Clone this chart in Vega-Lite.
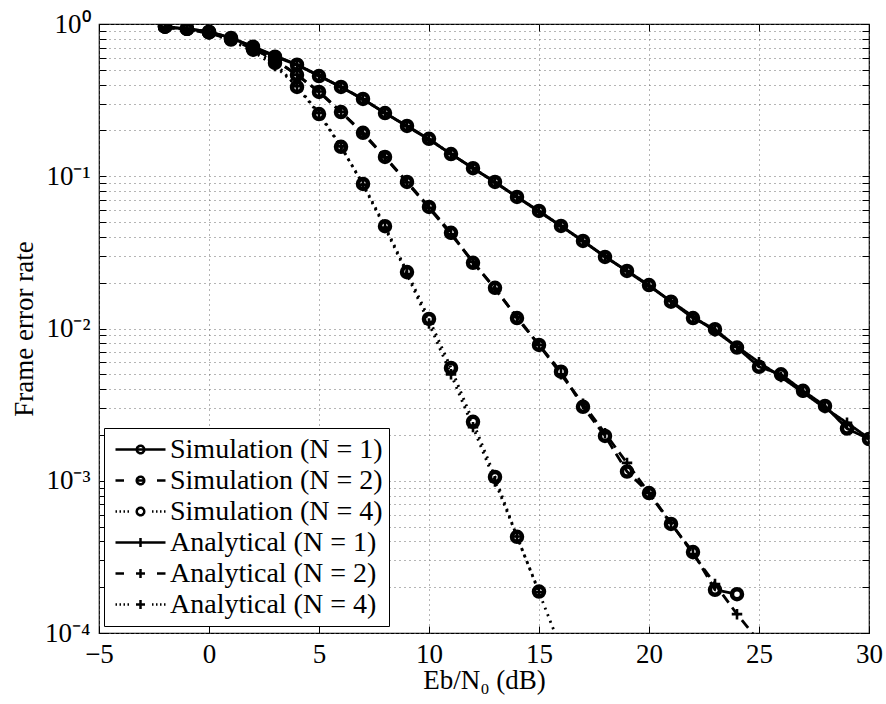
{
  "$schema": "https://vega.github.io/schema/vega-lite/v6.json",
  "width": 770,
  "height": 609,
  "autosize": "none",
  "padding": {"left": 99, "top": 24, "right": 17, "bottom": 71},
  "background": "white",
  "config": {
    "font": "Liberation Serif",
    "view": {"stroke": "black", "strokeWidth": 1.2},
    "axis": {
      "labelFont": "Liberation Serif", "labelFontSize": 27, "labelColor": "black",
      "titleFont": "Liberation Serif", "titleFontSize": 27, "titleFontWeight": "normal", "titleColor": "black",
      "domain": false, "tickColor": "black", "tickSize": -7, "tickWidth": 1,
      "gridColor": "#6a6a6a", "gridDash": [1, 4], "gridWidth": 1, "gridOpacity": 1,
      "labelOverlap": false, "labelBound": false, "labelFlush": false
    }
  },
  "data": {"values": [
    {"x": -2, "fer": 0.96, "series": "Simulation (N = 1)", "kind": "Simulation", "N": 1},
    {"x": -1, "fer": 0.93, "series": "Simulation (N = 1)", "kind": "Simulation", "N": 1},
    {"x": 0, "fer": 0.89, "series": "Simulation (N = 1)", "kind": "Simulation", "N": 1},
    {"x": 1, "fer": 0.81, "series": "Simulation (N = 1)", "kind": "Simulation", "N": 1},
    {"x": 2, "fer": 0.71, "series": "Simulation (N = 1)", "kind": "Simulation", "N": 1},
    {"x": 3, "fer": 0.61, "series": "Simulation (N = 1)", "kind": "Simulation", "N": 1},
    {"x": 4, "fer": 0.54, "series": "Simulation (N = 1)", "kind": "Simulation", "N": 1},
    {"x": 5, "fer": 0.455, "series": "Simulation (N = 1)", "kind": "Simulation", "N": 1},
    {"x": 6, "fer": 0.386, "series": "Simulation (N = 1)", "kind": "Simulation", "N": 1},
    {"x": 7, "fer": 0.322, "series": "Simulation (N = 1)", "kind": "Simulation", "N": 1},
    {"x": 8, "fer": 0.26, "series": "Simulation (N = 1)", "kind": "Simulation", "N": 1},
    {"x": 9, "fer": 0.214, "series": "Simulation (N = 1)", "kind": "Simulation", "N": 1},
    {"x": 10, "fer": 0.176, "series": "Simulation (N = 1)", "kind": "Simulation", "N": 1},
    {"x": 11, "fer": 0.14, "series": "Simulation (N = 1)", "kind": "Simulation", "N": 1},
    {"x": 12, "fer": 0.113, "series": "Simulation (N = 1)", "kind": "Simulation", "N": 1},
    {"x": 13, "fer": 0.0918, "series": "Simulation (N = 1)", "kind": "Simulation", "N": 1},
    {"x": 14, "fer": 0.0731, "series": "Simulation (N = 1)", "kind": "Simulation", "N": 1},
    {"x": 15, "fer": 0.0592, "series": "Simulation (N = 1)", "kind": "Simulation", "N": 1},
    {"x": 16, "fer": 0.0472, "series": "Simulation (N = 1)", "kind": "Simulation", "N": 1},
    {"x": 17, "fer": 0.0376, "series": "Simulation (N = 1)", "kind": "Simulation", "N": 1},
    {"x": 18, "fer": 0.0295, "series": "Simulation (N = 1)", "kind": "Simulation", "N": 1},
    {"x": 19, "fer": 0.0239, "series": "Simulation (N = 1)", "kind": "Simulation", "N": 1},
    {"x": 20, "fer": 0.0193, "series": "Simulation (N = 1)", "kind": "Simulation", "N": 1},
    {"x": 21, "fer": 0.015, "series": "Simulation (N = 1)", "kind": "Simulation", "N": 1},
    {"x": 22, "fer": 0.0117, "series": "Simulation (N = 1)", "kind": "Simulation", "N": 1},
    {"x": 23, "fer": 0.0099, "series": "Simulation (N = 1)", "kind": "Simulation", "N": 1},
    {"x": 24, "fer": 0.0075, "series": "Simulation (N = 1)", "kind": "Simulation", "N": 1},
    {"x": 25, "fer": 0.0056, "series": "Simulation (N = 1)", "kind": "Simulation", "N": 1},
    {"x": 26, "fer": 0.005, "series": "Simulation (N = 1)", "kind": "Simulation", "N": 1},
    {"x": 27, "fer": 0.0039, "series": "Simulation (N = 1)", "kind": "Simulation", "N": 1},
    {"x": 28, "fer": 0.0031, "series": "Simulation (N = 1)", "kind": "Simulation", "N": 1},
    {"x": 29, "fer": 0.0022, "series": "Simulation (N = 1)", "kind": "Simulation", "N": 1},
    {"x": 30, "fer": 0.00188, "series": "Simulation (N = 1)", "kind": "Simulation", "N": 1},

    {"x": -2, "fer": 0.96, "series": "Simulation (N = 2)", "kind": "Simulation", "N": 2},
    {"x": -1, "fer": 0.93, "series": "Simulation (N = 2)", "kind": "Simulation", "N": 2},
    {"x": 0, "fer": 0.88, "series": "Simulation (N = 2)", "kind": "Simulation", "N": 2},
    {"x": 1, "fer": 0.8, "series": "Simulation (N = 2)", "kind": "Simulation", "N": 2},
    {"x": 2, "fer": 0.69, "series": "Simulation (N = 2)", "kind": "Simulation", "N": 2},
    {"x": 3, "fer": 0.58, "series": "Simulation (N = 2)", "kind": "Simulation", "N": 2},
    {"x": 4, "fer": 0.463, "series": "Simulation (N = 2)", "kind": "Simulation", "N": 2},
    {"x": 5, "fer": 0.358, "series": "Simulation (N = 2)", "kind": "Simulation", "N": 2},
    {"x": 6, "fer": 0.264, "series": "Simulation (N = 2)", "kind": "Simulation", "N": 2},
    {"x": 7, "fer": 0.193, "series": "Simulation (N = 2)", "kind": "Simulation", "N": 2},
    {"x": 8, "fer": 0.134, "series": "Simulation (N = 2)", "kind": "Simulation", "N": 2},
    {"x": 9, "fer": 0.0918, "series": "Simulation (N = 2)", "kind": "Simulation", "N": 2},
    {"x": 10, "fer": 0.0629, "series": "Simulation (N = 2)", "kind": "Simulation", "N": 2},
    {"x": 11, "fer": 0.0425, "series": "Simulation (N = 2)", "kind": "Simulation", "N": 2},
    {"x": 12, "fer": 0.027, "series": "Simulation (N = 2)", "kind": "Simulation", "N": 2},
    {"x": 13, "fer": 0.0185, "series": "Simulation (N = 2)", "kind": "Simulation", "N": 2},
    {"x": 14, "fer": 0.0117, "series": "Simulation (N = 2)", "kind": "Simulation", "N": 2},
    {"x": 15, "fer": 0.0078, "series": "Simulation (N = 2)", "kind": "Simulation", "N": 2},
    {"x": 16, "fer": 0.0052, "series": "Simulation (N = 2)", "kind": "Simulation", "N": 2},
    {"x": 17, "fer": 0.00306, "series": "Simulation (N = 2)", "kind": "Simulation", "N": 2},
    {"x": 18, "fer": 0.00197, "series": "Simulation (N = 2)", "kind": "Simulation", "N": 2},
    {"x": 19, "fer": 0.00115, "series": "Simulation (N = 2)", "kind": "Simulation", "N": 2},
    {"x": 20, "fer": 0.00083, "series": "Simulation (N = 2)", "kind": "Simulation", "N": 2},
    {"x": 21, "fer": 0.00052, "series": "Simulation (N = 2)", "kind": "Simulation", "N": 2},
    {"x": 22, "fer": 0.00034, "series": "Simulation (N = 2)", "kind": "Simulation", "N": 2},
    {"x": 23, "fer": 0.000192, "series": "Simulation (N = 2)", "kind": "Simulation", "N": 2},
    {"x": 24, "fer": 0.00018, "series": "Simulation (N = 2)", "kind": "Simulation", "N": 2},

    {"x": -2, "fer": 0.96, "series": "Simulation (N = 4)", "kind": "Simulation", "N": 4},
    {"x": -1, "fer": 0.93, "series": "Simulation (N = 4)", "kind": "Simulation", "N": 4},
    {"x": 0, "fer": 0.88, "series": "Simulation (N = 4)", "kind": "Simulation", "N": 4},
    {"x": 1, "fer": 0.79, "series": "Simulation (N = 4)", "kind": "Simulation", "N": 4},
    {"x": 2, "fer": 0.68, "series": "Simulation (N = 4)", "kind": "Simulation", "N": 4},
    {"x": 3, "fer": 0.555, "series": "Simulation (N = 4)", "kind": "Simulation", "N": 4},
    {"x": 4, "fer": 0.386, "series": "Simulation (N = 4)", "kind": "Simulation", "N": 4},
    {"x": 5, "fer": 0.256, "series": "Simulation (N = 4)", "kind": "Simulation", "N": 4},
    {"x": 6, "fer": 0.156, "series": "Simulation (N = 4)", "kind": "Simulation", "N": 4},
    {"x": 7, "fer": 0.089, "series": "Simulation (N = 4)", "kind": "Simulation", "N": 4},
    {"x": 8, "fer": 0.047, "series": "Simulation (N = 4)", "kind": "Simulation", "N": 4},
    {"x": 9, "fer": 0.0235, "series": "Simulation (N = 4)", "kind": "Simulation", "N": 4},
    {"x": 10, "fer": 0.01156, "series": "Simulation (N = 4)", "kind": "Simulation", "N": 4},
    {"x": 11, "fer": 0.00551, "series": "Simulation (N = 4)", "kind": "Simulation", "N": 4},
    {"x": 12, "fer": 0.00244, "series": "Simulation (N = 4)", "kind": "Simulation", "N": 4},
    {"x": 13, "fer": 0.00106, "series": "Simulation (N = 4)", "kind": "Simulation", "N": 4},
    {"x": 14, "fer": 0.000428, "series": "Simulation (N = 4)", "kind": "Simulation", "N": 4},
    {"x": 15, "fer": 0.000187, "series": "Simulation (N = 4)", "kind": "Simulation", "N": 4},

    {"x": -2, "fer": 0.95, "series": "Analytical (N = 1)", "kind": "Analytical", "N": 1},
    {"x": -1, "fer": 0.93, "series": "Analytical (N = 1)", "kind": "Analytical", "N": 1},
    {"x": 0, "fer": 0.89, "series": "Analytical (N = 1)", "kind": "Analytical", "N": 1},
    {"x": 1, "fer": 0.81, "series": "Analytical (N = 1)", "kind": "Analytical", "N": 1},
    {"x": 2, "fer": 0.71, "series": "Analytical (N = 1)", "kind": "Analytical", "N": 1},
    {"x": 3, "fer": 0.62, "series": "Analytical (N = 1)", "kind": "Analytical", "N": 1},
    {"x": 4, "fer": 0.54, "series": "Analytical (N = 1)", "kind": "Analytical", "N": 1},
    {"x": 5, "fer": 0.46, "series": "Analytical (N = 1)", "kind": "Analytical", "N": 1},
    {"x": 6, "fer": 0.385, "series": "Analytical (N = 1)", "kind": "Analytical", "N": 1},
    {"x": 7, "fer": 0.32, "series": "Analytical (N = 1)", "kind": "Analytical", "N": 1},
    {"x": 8, "fer": 0.26, "series": "Analytical (N = 1)", "kind": "Analytical", "N": 1},
    {"x": 9, "fer": 0.213, "series": "Analytical (N = 1)", "kind": "Analytical", "N": 1},
    {"x": 10, "fer": 0.174, "series": "Analytical (N = 1)", "kind": "Analytical", "N": 1},
    {"x": 11, "fer": 0.14, "series": "Analytical (N = 1)", "kind": "Analytical", "N": 1},
    {"x": 12, "fer": 0.113, "series": "Analytical (N = 1)", "kind": "Analytical", "N": 1},
    {"x": 13, "fer": 0.091, "series": "Analytical (N = 1)", "kind": "Analytical", "N": 1},
    {"x": 14, "fer": 0.073, "series": "Analytical (N = 1)", "kind": "Analytical", "N": 1},
    {"x": 15, "fer": 0.0585, "series": "Analytical (N = 1)", "kind": "Analytical", "N": 1},
    {"x": 16, "fer": 0.047, "series": "Analytical (N = 1)", "kind": "Analytical", "N": 1},
    {"x": 17, "fer": 0.0375, "series": "Analytical (N = 1)", "kind": "Analytical", "N": 1},
    {"x": 18, "fer": 0.0298, "series": "Analytical (N = 1)", "kind": "Analytical", "N": 1},
    {"x": 19, "fer": 0.0238, "series": "Analytical (N = 1)", "kind": "Analytical", "N": 1},
    {"x": 20, "fer": 0.019, "series": "Analytical (N = 1)", "kind": "Analytical", "N": 1},
    {"x": 21, "fer": 0.0151, "series": "Analytical (N = 1)", "kind": "Analytical", "N": 1},
    {"x": 22, "fer": 0.012, "series": "Analytical (N = 1)", "kind": "Analytical", "N": 1},
    {"x": 23, "fer": 0.0096, "series": "Analytical (N = 1)", "kind": "Analytical", "N": 1},
    {"x": 24, "fer": 0.0076, "series": "Analytical (N = 1)", "kind": "Analytical", "N": 1},
    {"x": 25, "fer": 0.006, "series": "Analytical (N = 1)", "kind": "Analytical", "N": 1},
    {"x": 26, "fer": 0.0048, "series": "Analytical (N = 1)", "kind": "Analytical", "N": 1},
    {"x": 27, "fer": 0.0038, "series": "Analytical (N = 1)", "kind": "Analytical", "N": 1},
    {"x": 28, "fer": 0.003, "series": "Analytical (N = 1)", "kind": "Analytical", "N": 1},
    {"x": 29, "fer": 0.0024, "series": "Analytical (N = 1)", "kind": "Analytical", "N": 1},
    {"x": 30, "fer": 0.0019, "series": "Analytical (N = 1)", "kind": "Analytical", "N": 1},

    {"x": -2, "fer": 0.95, "series": "Analytical (N = 2)", "kind": "Analytical", "N": 2},
    {"x": -1, "fer": 0.92, "series": "Analytical (N = 2)", "kind": "Analytical", "N": 2},
    {"x": 0, "fer": 0.87, "series": "Analytical (N = 2)", "kind": "Analytical", "N": 2},
    {"x": 1, "fer": 0.79, "series": "Analytical (N = 2)", "kind": "Analytical", "N": 2},
    {"x": 2, "fer": 0.69, "series": "Analytical (N = 2)", "kind": "Analytical", "N": 2},
    {"x": 3, "fer": 0.58, "series": "Analytical (N = 2)", "kind": "Analytical", "N": 2},
    {"x": 4, "fer": 0.465, "series": "Analytical (N = 2)", "kind": "Analytical", "N": 2},
    {"x": 5, "fer": 0.36, "series": "Analytical (N = 2)", "kind": "Analytical", "N": 2},
    {"x": 6, "fer": 0.265, "series": "Analytical (N = 2)", "kind": "Analytical", "N": 2},
    {"x": 7, "fer": 0.19, "series": "Analytical (N = 2)", "kind": "Analytical", "N": 2},
    {"x": 8, "fer": 0.133, "series": "Analytical (N = 2)", "kind": "Analytical", "N": 2},
    {"x": 9, "fer": 0.091, "series": "Analytical (N = 2)", "kind": "Analytical", "N": 2},
    {"x": 10, "fer": 0.062, "series": "Analytical (N = 2)", "kind": "Analytical", "N": 2},
    {"x": 11, "fer": 0.0415, "series": "Analytical (N = 2)", "kind": "Analytical", "N": 2},
    {"x": 12, "fer": 0.0275, "series": "Analytical (N = 2)", "kind": "Analytical", "N": 2},
    {"x": 13, "fer": 0.0182, "series": "Analytical (N = 2)", "kind": "Analytical", "N": 2},
    {"x": 14, "fer": 0.0119, "series": "Analytical (N = 2)", "kind": "Analytical", "N": 2},
    {"x": 15, "fer": 0.0078, "series": "Analytical (N = 2)", "kind": "Analytical", "N": 2},
    {"x": 16, "fer": 0.005, "series": "Analytical (N = 2)", "kind": "Analytical", "N": 2},
    {"x": 17, "fer": 0.0032, "series": "Analytical (N = 2)", "kind": "Analytical", "N": 2},
    {"x": 18, "fer": 0.00205, "series": "Analytical (N = 2)", "kind": "Analytical", "N": 2},
    {"x": 19, "fer": 0.00131, "series": "Analytical (N = 2)", "kind": "Analytical", "N": 2},
    {"x": 20, "fer": 0.00083, "series": "Analytical (N = 2)", "kind": "Analytical", "N": 2},
    {"x": 21, "fer": 0.00053, "series": "Analytical (N = 2)", "kind": "Analytical", "N": 2},
    {"x": 22, "fer": 0.00033, "series": "Analytical (N = 2)", "kind": "Analytical", "N": 2},
    {"x": 23, "fer": 0.00021, "series": "Analytical (N = 2)", "kind": "Analytical", "N": 2},
    {"x": 24, "fer": 0.000133, "series": "Analytical (N = 2)", "kind": "Analytical", "N": 2},
    {"x": 25, "fer": 0.000088, "series": "Analytical (N = 2)", "kind": "Analytical", "N": 2},

    {"x": -2, "fer": 0.95, "series": "Analytical (N = 4)", "kind": "Analytical", "N": 4},
    {"x": -1, "fer": 0.92, "series": "Analytical (N = 4)", "kind": "Analytical", "N": 4},
    {"x": 0, "fer": 0.87, "series": "Analytical (N = 4)", "kind": "Analytical", "N": 4},
    {"x": 1, "fer": 0.78, "series": "Analytical (N = 4)", "kind": "Analytical", "N": 4},
    {"x": 2, "fer": 0.66, "series": "Analytical (N = 4)", "kind": "Analytical", "N": 4},
    {"x": 3, "fer": 0.53, "series": "Analytical (N = 4)", "kind": "Analytical", "N": 4},
    {"x": 4, "fer": 0.39, "series": "Analytical (N = 4)", "kind": "Analytical", "N": 4},
    {"x": 5, "fer": 0.26, "series": "Analytical (N = 4)", "kind": "Analytical", "N": 4},
    {"x": 6, "fer": 0.157, "series": "Analytical (N = 4)", "kind": "Analytical", "N": 4},
    {"x": 7, "fer": 0.088, "series": "Analytical (N = 4)", "kind": "Analytical", "N": 4},
    {"x": 8, "fer": 0.046, "series": "Analytical (N = 4)", "kind": "Analytical", "N": 4},
    {"x": 9, "fer": 0.0228, "series": "Analytical (N = 4)", "kind": "Analytical", "N": 4},
    {"x": 10, "fer": 0.0108, "series": "Analytical (N = 4)", "kind": "Analytical", "N": 4},
    {"x": 11, "fer": 0.005, "series": "Analytical (N = 4)", "kind": "Analytical", "N": 4},
    {"x": 12, "fer": 0.00225, "series": "Analytical (N = 4)", "kind": "Analytical", "N": 4},
    {"x": 13, "fer": 0.00099, "series": "Analytical (N = 4)", "kind": "Analytical", "N": 4},
    {"x": 14, "fer": 0.00043, "series": "Analytical (N = 4)", "kind": "Analytical", "N": 4},
    {"x": 15, "fer": 0.000185, "series": "Analytical (N = 4)", "kind": "Analytical", "N": 4},
    {"x": 16, "fer": 0.000079, "series": "Analytical (N = 4)", "kind": "Analytical", "N": 4}
  ]},
  "resolve": {"axis": {"x": "independent", "y": "independent"}},
  "layer": [
    {
      "mark": {"type": "line", "clip": true},
      "encoding": {
        "x": {"field": "x", "type": "quantitative",
          "scale": {"domain": [-5, 30], "nice": false, "zero": false},
          "axis": {"orient": "bottom", "values": [-5, 0, 5, 10, 15, 20, 25, 30], "grid": true,
            "labelPadding": 15, "title": "Eb/N₀ (dB)", "titlePadding": 0}},
        "y": {"field": "fer", "type": "quantitative",
          "scale": {"type": "log", "domain": [0.0001, 1], "nice": false},
          "axis": {"orient": "left", "grid": true,
            "values": [0.0001, 0.0002, 0.0003, 0.0004, 0.0005, 0.0006, 0.0007, 0.0008, 0.0009,
                       0.001, 0.002, 0.003, 0.004, 0.005, 0.006, 0.007, 0.008, 0.009,
                       0.01, 0.02, 0.03, 0.04, 0.05, 0.06, 0.07, 0.08, 0.09,
                       0.1, 0.2, 0.3, 0.4, 0.5, 0.6, 0.7, 0.8, 0.9, 1],
            "labelExpr": "datum.value == 1 ? '10⁰' : datum.value == 0.1 ? '10⁻¹' : datum.value == 0.01 ? '10⁻²' : datum.value == 0.001 ? '10⁻³' : datum.value == 0.0001 ? '10⁻⁴' : ''",
            "labelPadding": 16, "title": "Frame error rate", "titlePadding": 6}},
        "color": {"field": "series", "type": "nominal",
          "scale": {"domain": ["Simulation (N = 1)", "Simulation (N = 2)", "Simulation (N = 4)", "Analytical (N = 1)", "Analytical (N = 2)", "Analytical (N = 4)"],
                    "range": ["black", "black", "black", "black", "black", "black"]},
          "legend": {
            "orient": "none", "legendX": 5, "legendY": 404, "title": null,
            "symbolSize": 2500, "symbolStrokeWidth": 2.5, "symbolStrokeColor": "black", "symbolFillColor": "transparent",
            "symbolOffset": 4, "symbolDash": [1, 0],
            "labelFont": "Liberation Serif", "labelFontSize": 28, "labelColor": "black", "labelOffset": 3, "labelLimit": 400,
            "clipHeight": 31, "rowPadding": 0, "padding": 6,
            "strokeColor": "black", "fillColor": "white",
            "encode": {"symbols": {"update": {
              "shape": {"signal": "datum.value == 'Simulation (N = 1)' ? 'M-1,0H1M0.15,0A0.15,0.15 0 1,1 -0.15,0A0.15,0.15 0 1,1 0.15,0' : datum.value == 'Simulation (N = 2)' ? 'M-1,0H-0.66M0.66,0H1M-0.15,0H0.15M0.15,0A0.15,0.15 0 1,1 -0.15,0A0.15,0.15 0 1,1 0.15,0' : datum.value == 'Simulation (N = 4)' ? 'M-1,0H-0.94M-0.84,0H-0.78M-0.68,0H-0.62M-0.52,0H-0.46M0.46,0H0.52M0.62,0H0.68M0.78,0H0.84M0.94,0H1M0.15,0A0.15,0.15 0 1,1 -0.15,0A0.15,0.15 0 1,1 0.15,0' : datum.value == 'Analytical (N = 1)' ? 'M-1,0H1M0,-0.18V0.18' : datum.value == 'Analytical (N = 2)' ? 'M-1,0H-0.66M0.66,0H1M-0.18,0H0.18M0,-0.18V0.18' : 'M-1,0H-0.94M-0.84,0H-0.78M-0.68,0H-0.62M-0.52,0H-0.46M0.46,0H0.52M0.62,0H0.68M0.78,0H0.84M0.94,0H1M-0.18,0H0.18M0,-0.18V0.18'"},
              "fill": {"value": "transparent"},
              "stroke": {"value": "black"},
              "strokeWidth": {"value": 2.5},
              "strokeDash": {"value": [1, 0]},
              "opacity": {"value": 1}
            }}}
          }},
        "strokeDash": {"field": "N", "type": "ordinal",
          "scale": {"domain": [1, 2, 4], "range": [[1, 0], [10, 6], [2, 5]]},
          "legend": null},
        "strokeWidth": {"field": "N", "type": "ordinal",
          "scale": {"domain": [1, 2, 4], "range": [2.8, 2.8, 1.5]},
          "legend": null}
      }
    },
    {
      "transform": [{"filter": "datum.kind == 'Simulation'"}],
      "mark": {"type": "point", "clip": true, "filled": false, "color": "black", "opacity": 1, "shape": "circle", "size": 100, "strokeWidth": 4.5},
      "encoding": {
        "x": {"field": "x", "type": "quantitative",
          "axis": {"orient": "top", "values": [-5, 0, 5, 10, 15, 20, 25, 30], "grid": false, "labels": false, "title": null}},
        "y": {"field": "fer", "type": "quantitative",
          "axis": {"orient": "right", "grid": false, "labels": false, "title": null,
            "values": [0.0001, 0.0002, 0.0003, 0.0004, 0.0005, 0.0006, 0.0007, 0.0008, 0.0009,
                       0.001, 0.002, 0.003, 0.004, 0.005, 0.006, 0.007, 0.008, 0.009,
                       0.01, 0.02, 0.03, 0.04, 0.05, 0.06, 0.07, 0.08, 0.09,
                       0.1, 0.2, 0.3, 0.4, 0.5, 0.6, 0.7, 0.8, 0.9, 1]}}
      }
    },
    {
      "transform": [{"filter": "datum.kind == 'Analytical'"}],
      "mark": {"type": "point", "clip": true, "filled": false, "color": "black", "opacity": 1, "shape": "M-1,0H1M0,-1V1", "size": 110, "strokeWidth": 2.6},
      "encoding": {
        "x": {"field": "x", "type": "quantitative", "axis": null},
        "y": {"field": "fer", "type": "quantitative", "axis": null}
      }
    }
  ]
}
